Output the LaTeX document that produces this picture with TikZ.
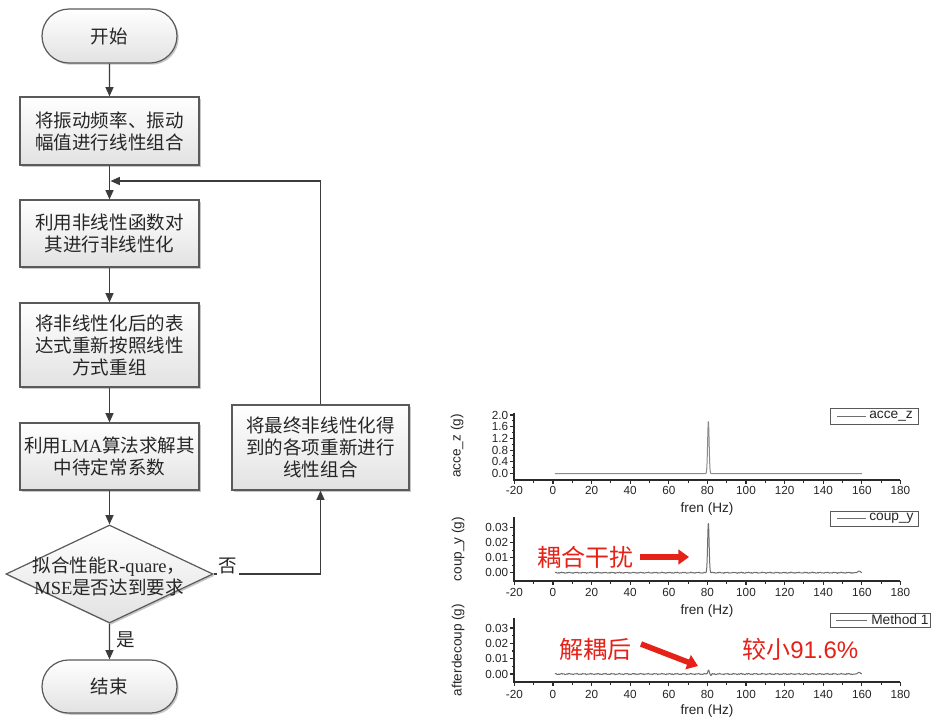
\documentclass[tikz,border=0pt]{standalone}
\usepackage{fontspec}
\setmainfont{Liberation Sans}
\newfontfamily\cjk{Noto Sans CJK SC}
\newfontfamily\latserif{Liberation Serif}
\usetikzlibrary{shapes.geometric,shapes.misc,arrows.meta,shadows}
\definecolor{fcline}{HTML}{5A5A5A}
\definecolor{fcarrow}{HTML}{3C3C3C}
\definecolor{fcfill}{HTML}{E2E2E2}
\definecolor{redmark}{HTML}{E62117}
\definecolor{axisc}{HTML}{2A2A2A}
\definecolor{curvec}{HTML}{6E6E6E}
\begin{document}
\begin{tikzpicture}[x=0.75pt,y=-0.75pt,
  declare function={nz(\t)=0.00022*sin(100*mod(0.97*\t,3.6))+0.00018*sin(100*mod(2.63*\t,3.6)+40)+0.00012*sin(100*mod(4.1*\t,3.6));},
  fcshadow/.style={drop shadow={shadow xshift=1.3pt,shadow yshift=-1.3pt,fill=black,opacity=0.22}},
  fcfont/.style={font=\cjk\fontsize{13.9pt}{16.5pt}\selectfont, text=black!85},
  procbox/.style={rectangle, draw=fcline, line width=0.9pt, top color=white, bottom color=fcfill, fcshadow, inner sep=0pt, align=center, minimum width=134.25pt, fcfont},
  termbox/.style={rounded rectangle, draw=fcline, line width=0.9pt, top color=white, bottom color=fcfill, fcshadow, minimum width=101.25pt, inner sep=0pt, fcfont},
  decbox/.style={diamond, draw=fcline, line width=0.9pt, top color=white, bottom color=fcfill, fcshadow, minimum width=155.25pt, minimum height=73.5pt, inner sep=0pt},
  flow/.style={draw=fcarrow, line width=1.1pt, -{Triangle[length=7pt,width=6pt]}},
  yesno/.style={fill=white, inner sep=1.5pt, fcfont},
  axisl/.style={draw=axisc, line width=0.8pt},
  xtl/.style={font=\fontsize{8.8pt}{9.5pt}\selectfont, text=black!85, inner sep=0pt},
  ytl/.style={font=\fontsize{8.8pt}{9.5pt}\selectfont, text=black!85, inner sep=0pt, anchor=east},
  axlab/.style={font=\fontsize{10.2pt}{11pt}\selectfont, text=black!85, inner sep=0pt},
  curve/.style={draw=curvec, line width=0.75pt, line join=round},
  legframe/.style={draw=gray!70!black, line width=0.6pt, inner sep=0pt},
  legtxt/.style={font=\fontsize{10.3pt}{11pt}\selectfont, text=black!85, inner sep=0pt, anchor=west},
  redlab/.style={font=\fontsize{18pt}{20pt}\selectfont, text=redmark, inner sep=0pt},
  redarrow/.style={draw=redmark, line width=4.2pt, -{Triangle[length=8pt,width=11pt]}}
]
\useasboundingbox (0,0) rectangle (937,722);
\fill[white] (0,0) rectangle (937,722);

% ---------------- flowchart ----------------
\node[termbox, minimum height=40.5pt] (start) at (109.5,36) {开始};
\node[procbox, minimum height=51pt] (b1) at (109.5,131) {将振动频率、振动\\幅值进行线性组合};
\node[procbox, minimum height=50.25pt] (b2) at (109.5,233.5) {利用非线性函数对\\其进行非线性化};
\node[procbox, minimum height=63pt] (b3) at (109.5,345) {将非线性化后的表\\达式重新按照线性\\方式重组};
\node[procbox, minimum height=50.25pt] (b4) at (109.5,456.5) {利用{\latserif LMA}算法求解其\\中待定常系数};
\node[decbox] (dec) at (109.5,574) {};
\node[fcfont, align=center, inner sep=0pt] (dectext) at (109,576) {拟合性能{\latserif R-quare}，\\{\latserif MSE}是否达到要求};
\node[termbox, minimum height=39.75pt] (end) at (109.5,686.5) {结束};
\node[procbox, minimum width=132.75pt, minimum height=63.75pt] (b5) at (320.5,447.5) {将最终非线性化得\\到的各项重新进行\\线性组合};
\coordinate (join) at (110.5,181);

\draw[flow] (start) -- (b1);
\draw[flow] (b1) -- (b2);
\draw[flow] (b2) -- (b3);
\draw[flow] (b3) -- (b4);
\draw[flow] (b4) -- (dec);
\draw[flow] (dec) -- (end);
\draw[flow] (dec.east) -| (b5.south);
\draw[flow] (b5.north) |- (join);
\node[yesno] (no) at (228,566) {否};
\node[yesno] (yes) at (126,640) {是};

% ---------------- plot 1 ----------------
\draw[axisl] (514,413) -- (514,480) -- (900,480);
\foreach \v in {-20,0,...,180}{
  \draw[axisl] ({553+1.93*\v},480) -- ++(0,4);
  \node[xtl] (p1x\v) at ({553+1.93*\v},490.5) {\v};
}
\foreach \v in {-10,10,...,170}{\draw[axisl] ({553+1.93*\v},480) -- ++(0,2.5);}
\foreach \v/\t in {0/0.0,0.4/0.4,0.8/0.8,1.2/1.2,1.6/1.6,2.0/2.0}{
  \draw[axisl] (514,{473.5-29.25*\v}) -- ++(-4,0);
  \node[ytl] (p1y\t) at (508.5,{473.5-29.25*\v}) {\t};
}
\foreach \v in {0.2,0.6,1.0,1.4,1.8}{\draw[axisl] (514,{473.5-29.25*\v}) -- ++(-2.5,0);}
\node[axlab, rotate=90] (yl1) at (457,446) {acce\_z (g)};
\node[axlab] (xl1) at (707,509) {fren (Hz)};
\begin{scope}[shift={(553,473.5)}, x=1.4475pt, y=21.9375pt]
  \draw[curve, draw=curvec!80] (1,0) -- (78.5,0) -- plot[domain=78.5:82.5, samples=50, smooth] (\x,{1.78*exp(-((\x-80.5)/0.55)^2)}) -- (160,0);
\end{scope}
\node[legframe, minimum width=66pt, minimum height=12pt] (lg1) at (874,416) {};
\draw[curve] (837,416) -- (866,416);
\node[legtxt] (lt1) at (869,416.5) {acce\_z};

% ---------------- plot 2 ----------------
\draw[axisl] (514,517) -- (514,581) -- (900,581);
\foreach \v in {-20,0,...,180}{
  \draw[axisl] ({553+1.93*\v},581) -- ++(0,4);
  \node[xtl] (p2x\v) at ({553+1.93*\v},592.5) {\v};
}
\foreach \v in {-10,10,...,170}{\draw[axisl] ({553+1.93*\v},581) -- ++(0,2.5);}
\foreach \v/\t in {0/0.00,1/0.01,2/0.02,3/0.03}{
  \draw[axisl] (514,{572.7-15*\v}) -- ++(-4,0);
  \node[ytl] (p2y\v) at (508.5,{572.7-15*\v}) {\t};
}
\foreach \v in {0.5,1.5,2.5}{\draw[axisl] (514,{572.7-15*\v}) -- ++(-2.5,0);}
\node[axlab, rotate=90] (yl2) at (458,549) {coup\_y (g)};
\node[axlab] (xl2) at (707,611) {fren (Hz)};
\begin{scope}[shift={(553,572.7)}, x=1.4475pt, y=1125pt]
  \draw[curve] plot[domain=1:78.8, samples=200] (\x,{nz(\x)})
    -- plot[domain=78.8:82.2, samples=40, smooth] (\x,{0.033*exp(-((\x-80.5)/0.55)^2)})
    -- plot[domain=82.2:156, samples=190] (\x,{nz(\x)})
    -- plot[domain=156:160, samples=16, smooth] (\x,{0.0011*exp(-((\x-158.6)/0.9)^2)});
\end{scope}
\node[legframe, minimum width=66pt, minimum height=11.25pt] (lg2) at (874,518.5) {};
\draw[curve] (837,518.5) -- (866,518.5);
\node[legtxt] (lt2) at (869,518.5) {coup\_y};
\node[redlab, font=\cjk\fontsize{18pt}{20pt}\selectfont] (t1) at (585,557) {耦合干扰};
\coordinate (a1s) at (640,557);
\coordinate (a1e) at (689,557);
\draw[redarrow] (a1s) -- (a1e);

% ---------------- plot 3 ----------------
\draw[axisl] (514,618) -- (514,682) -- (900,682);
\foreach \v in {-20,0,...,180}{
  \draw[axisl] ({553+1.93*\v},682) -- ++(0,4);
  \node[xtl] (p3x\v) at ({553+1.93*\v},694.5) {\v};
}
\foreach \v in {-10,10,...,170}{\draw[axisl] ({553+1.93*\v},682) -- ++(0,2.5);}
\foreach \v/\t in {0/0.00,1/0.01,2/0.02,3/0.03}{
  \draw[axisl] (514,{674-15.33*\v}) -- ++(-4,0);
  \node[ytl] (p3y\v) at (508.5,{674-15.33*\v}) {\t};
}
\foreach \v in {0.5,1.5,2.5}{\draw[axisl] (514,{674-15.33*\v}) -- ++(-2.5,0);}
\node[axlab, rotate=90] (yl3) at (458,650) {afterdecoup (g)};
\node[axlab] (xl3) at (707,711) {fren (Hz)};
\begin{scope}[shift={(553,674)}, x=1.4475pt, y=1150pt]
  \draw[curve] plot[domain=1:79.5, samples=200] (\x,{1.2*nz(\x)})
    -- plot[domain=79.5:82.5, samples=30, smooth] (\x,{0.0026*exp(-((\x-80.6)/0.5)^2)-0.0009*exp(-((\x-81.8)/0.4)^2)})
    -- plot[domain=82.5:156, samples=190] (\x,{1.2*nz(\x)})
    -- plot[domain=156:160, samples=16, smooth] (\x,{0.0011*exp(-((\x-158.6)/0.9)^2)});
\end{scope}
\node[legframe, minimum width=75pt, minimum height=10.5pt] (lg3) at (880,620) {};
\draw[curve] (836,620) -- (867,620);
\node[legtxt] (lt3) at (871,620) {Method 1};
\node[redlab, font=\cjk\fontsize{18pt}{20pt}\selectfont] (t2) at (595,649) {解耦后};
\coordinate (a2s) at (641,644);
\coordinate (a2e) at (698,666);
\draw[redarrow] (a2s) -- (a2e);
\node[redlab, anchor=west] (t3) at (742,649) {{\cjk 较小}91.6\%};
\end{tikzpicture}
\end{document}
